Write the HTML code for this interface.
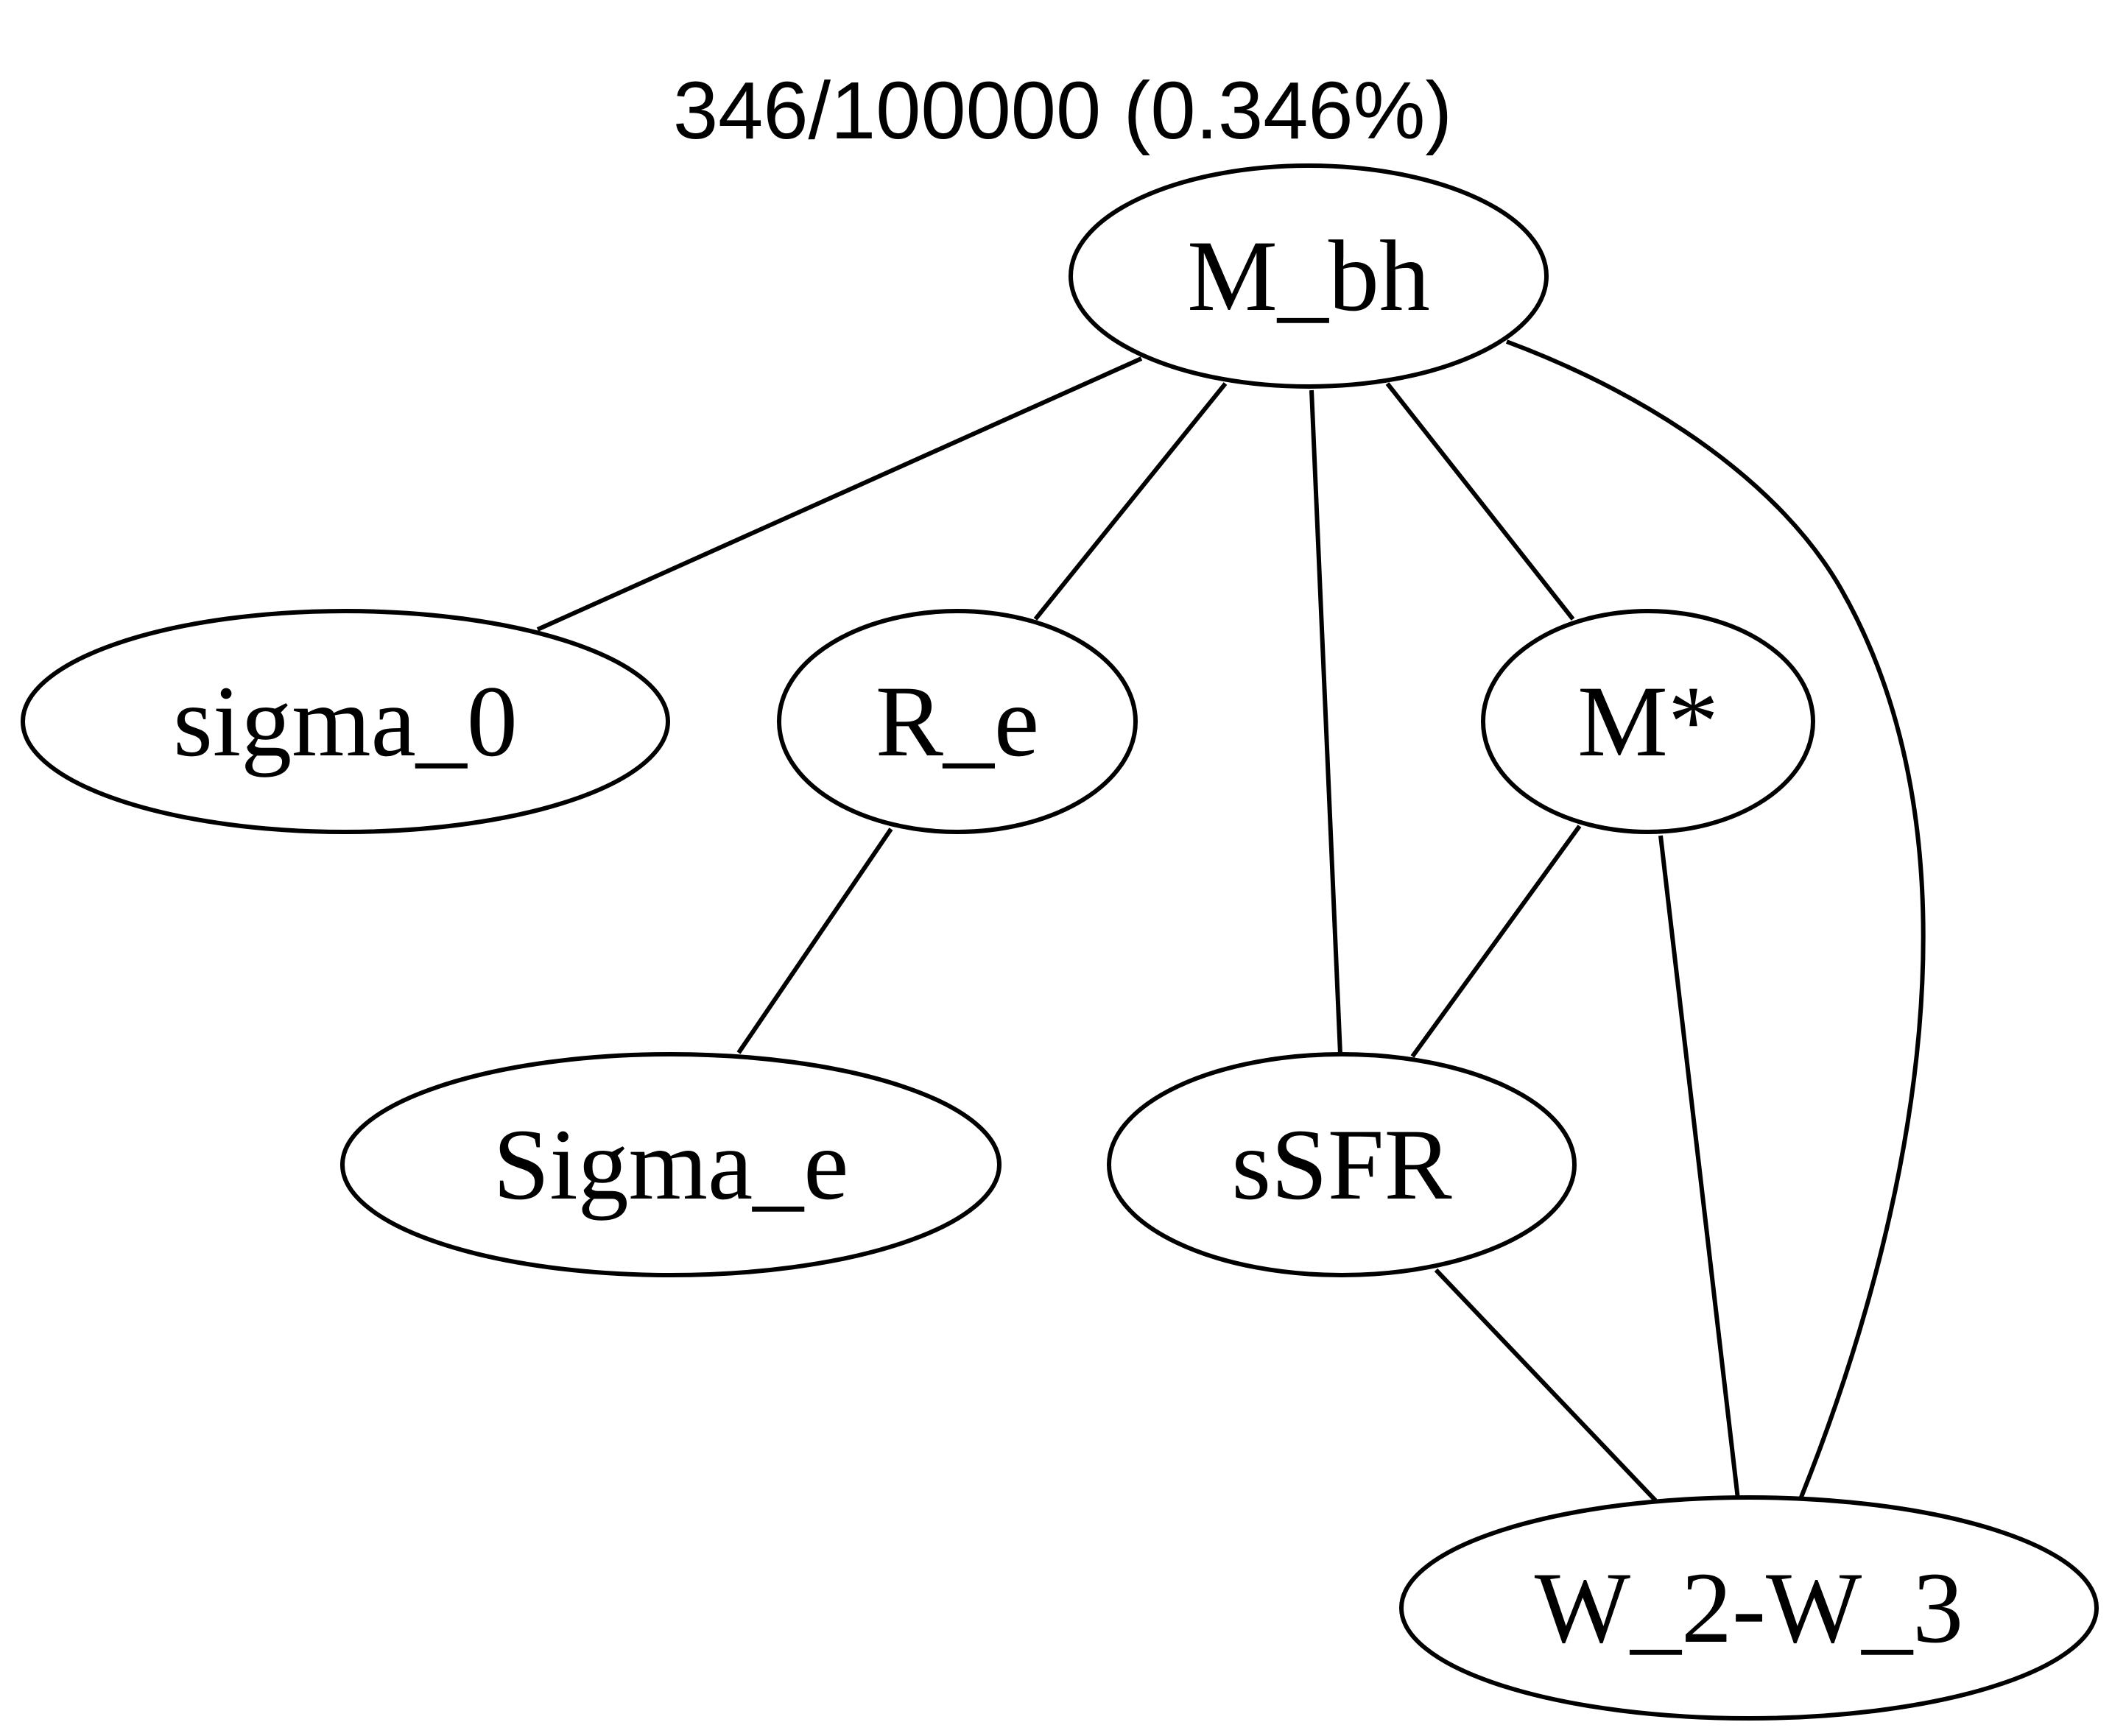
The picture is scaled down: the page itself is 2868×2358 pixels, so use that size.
<!DOCTYPE html>
<html><head><style>html,body{margin:0;padding:0;background:#fff}svg{display:block}</style></head>
<body>
<svg width="2868" height="2358" viewBox="0 0 2868 2358" xmlns="http://www.w3.org/2000/svg">
<rect width="2868" height="2358" fill="#fff"/>
<g fill="none" stroke="#000" stroke-width="6">
<ellipse cx="1777" cy="375" rx="323" ry="150"/>
<ellipse cx="469" cy="980" rx="438" ry="150"/>
<ellipse cx="1300" cy="980" rx="242" ry="150"/>
<ellipse cx="2238" cy="980" rx="224" ry="150"/>
<ellipse cx="911" cy="1582" rx="446" ry="150"/>
<ellipse cx="1822" cy="1582" rx="316" ry="150"/>
<ellipse cx="2375" cy="2184" rx="472" ry="150"/>
<path d="M1550,487 L730,855"/>
<path d="M1664,521 L1406,841"/>
<path d="M1781,530 L1820,1432"/>
<path d="M1884,521 L2136,841"/>
<path d="M2145,1122 L1918,1435"/>
<path d="M2255,1135 L2360,2036"/>
<path d="M1950,1725 L2248,2038"/>
<path d="M1210,1126 L1003,1430"/>
<path d="M2046,464 C2250,540 2420,660 2500,800 C2700,1150 2600,1650 2445,2036"/>
</g>
<g font-family="'Liberation Serif', serif" font-size="138" text-anchor="middle" fill="#000">
<text x="1777" y="421">M_bh</text>
<text x="469" y="1026">sigma_0</text>
<text x="1300" y="1026">R_e</text>
<text x="2238" y="1026">M*</text>
<text x="911" y="1628">Sigma_e</text>
<text x="1822" y="1628">sSFR</text>
<text x="2375" y="2230">W_2-W_3</text>
</g>
<text x="1443" y="188" font-family="'Liberation Sans', sans-serif" font-size="110" text-anchor="middle">346/100000 (0.346%)</text>
</svg>
</body></html>
